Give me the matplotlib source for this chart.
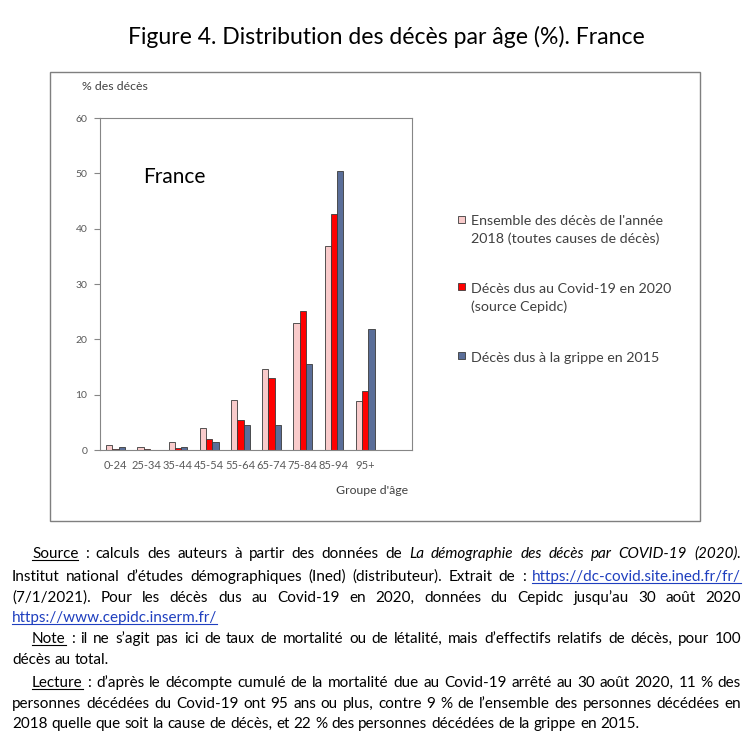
import matplotlib
matplotlib.use('Agg')
import matplotlib.pyplot as plt
from matplotlib.patches import Rectangle
from matplotlib.lines import Line2D
import numpy as np

# données (% des décès)
groupes = ['0-24', '25-34', '35-44', '45-54', '55-64', '65-74', '75-84', '85-94', '95+']
deces_2018 = [0.9, 0.6, 1.4, 4.0, 9.1, 14.7, 23.0, 36.9, 8.9]
covid_2020 = [0.1, 0.15, 0.4, 1.9, 5.5, 13.0, 25.2, 42.7, 10.7]
grippe_2015 = [0.6, 0.05, 0.5, 1.4, 4.6, 4.5, 15.6, 50.5, 21.8]
noms_series = ["Ensemble des décès de l'année\n2018 (toutes causes de décès)",
               "Décès dus au Covid-19 en 2020\n(source Cepidc)",
               "Décès dus à la grippe en 2015"]
couleurs = ['#F9CBCB', '#FF0000', '#5A6E99']

W, H = 754, 744
POLICE = ['Lato', 'DejaVu Sans']
POLICE_TXT = ['Lato', 'DejaVu Sans']
GRIS = '#595959'
LIEN = '#1F3FBF'


def fx(px):
    return px / W


def fy(py):
    return 1 - py / H


fig = plt.figure(figsize=(W / 100, H / 100), dpi=100)

# titre
fig.text(fx(386), fy(37), 'Figure 4. Distribution des décès par âge (%). France',
         ha='center', va='center', fontsize=16.6, family=POLICE)

# cadre du graphique
fig.add_artist(Rectangle((fx(50), fy(521)), fx(700) - fx(50), fy(72) - fy(521),
                         transform=fig.transFigure, fill=False, ec='#7f7f7f', lw=1))

ax = fig.add_axes([fx(100), fy(450), fx(412) - fx(100), fy(118) - fy(450)])
x = np.arange(len(groupes))
larg = 0.2
series = [deces_2018, covid_2020, grippe_2015]
for k, (vals, col) in enumerate(zip(series, couleurs)):
    ax.bar(x + (k - 1) * larg, vals, larg, color=col, edgecolor='#3a3a3a', lw=0.6)
ax.set_xlim(-0.5, len(groupes) + 0.5)
ax.set_ylim(0, 60)
ax.set_yticks(range(0, 61, 10))
ax.set_xticks(x, groupes)
ax.tick_params(axis='x', length=0, pad=7, labelsize=8, labelcolor=GRIS)
ax.tick_params(axis='y', length=4, width=0.8, color='#868686', labelsize=7.5,
               labelcolor=GRIS, pad=5)
for lab in ax.get_xticklabels() + ax.get_yticklabels():
    lab.set_family(POLICE)
for s in ax.spines.values():
    s.set_color('#868686')
    s.set_linewidth(0.8)

fig.text(fx(143), fy(177), 'France', ha='left', va='center', fontsize=15, family=POLICE)
fig.text(fx(82), fy(87), '% des décès', ha='left', va='center', fontsize=8.8,
         family=POLICE, color='#404040')
fig.text(fx(336), fy(490), "Groupe d'âge", ha='left', va='center', fontsize=8.8,
         family=POLICE, color='#404040')

# légende (carré aligné sur la première ligne)
for yl, nom, col in zip([219, 287, 356], noms_series, couleurs):
    fig.add_artist(Rectangle((fx(458), fy(yl + 3.5)), fx(7), 7 / H,
                             transform=fig.transFigure, fc=col, ec='#3a3a3a', lw=0.6))
    fig.text(fx(471), fy(yl - 4), nom, ha='left', va='top', fontsize=10.3, family=POLICE,
             color='#404040', linespacing=1.55)

# texte sous le graphique (justifié)
FS = 11
r = fig.canvas.get_renderer()
t1 = fig.text(0, 0, 'a a', fontsize=FS, family=POLICE_TXT)
t2 = fig.text(0, 0, 'aa', fontsize=FS, family=POLICE_TXT)
ESPACE = t1.get_window_extent(renderer=r).width - t2.get_window_extent(renderer=r).width
t1.remove()
t2.remove()


def ligne(y, x0, x1, segments, justifier=True):
    mots = []
    for texte, style in segments:
        for m in texte.split():
            mots.append((m, style))
    arts = []
    for m, style in mots:
        kw = dict(fontsize=FS, family=POLICE_TXT, va='baseline', ha='left', color='black')
        if style == 'i':
            kw['style'] = 'italic'
        if style == 'l':
            kw['color'] = LIEN
        arts.append((fig.text(fx(x0), fy(y), m, **kw), style))
    largeurs = [t.get_window_extent(renderer=r).width for t, _ in arts]
    esp = ESPACE
    if justifier and len(arts) > 1:
        esp = (x1 - x0 - sum(largeurs)) / (len(arts) - 1)
    xc = x0
    for (t, style), w in zip(arts, largeurs):
        t.set_x(fx(xc))
        if style in ('u', 'l'):
            fig.add_artist(Line2D([fx(xc), fx(xc + w)], [fy(y + 2), fy(y + 2)],
                                  transform=fig.transFigure, color=t.get_color(), lw=0.8))
        xc += w + esp


G, D = 12, 741
ligne(558, 32, D, [('Source', 'u'), (': calculs des auteurs à partir des données de', 'n'),
                   ('La démographie des décès par COVID-19 (2020).', 'i')])
ligne(581, G, D, [('Institut national d’études démographiques (Ined) (distributeur). Extrait de :', 'n'),
                  ('https://dc-covid.site.ined.fr/fr/', 'l')])
ligne(602, G, D, [('(7/1/2021). Pour les décès dus au Covid-19 en 2020, données du Cepidc jusqu’au 30 août 2020', 'n')])
ligne(622, G, D, [('https://www.cepidc.inserm.fr/', 'l')], False)
ligne(643, 32, D, [('Note', 'u'), (': il ne s’agit pas ici de taux de mortalité ou de létalité, mais d’effectifs relatifs de décès, pour 100', 'n')])
ligne(664, G, D, [('décès au total.', 'n')], False)
ligne(687, 32, D, [('Lecture', 'u'), (': d’après le décompte cumulé de la mortalité due au Covid-19 arrêté au 30 août 2020, 11 % des', 'n')])
ligne(708, G, D, [('personnes décédées du Covid-19 ont 95 ans ou plus, contre 9 % de l’ensemble des personnes décédées en', 'n')])
ligne(728, G, D, [('2018 quelle que soit la cause de décès, et 22 % des personnes décédées de la grippe en 2015.', 'n')], False)

fig.savefig('out.png', dpi=100)
